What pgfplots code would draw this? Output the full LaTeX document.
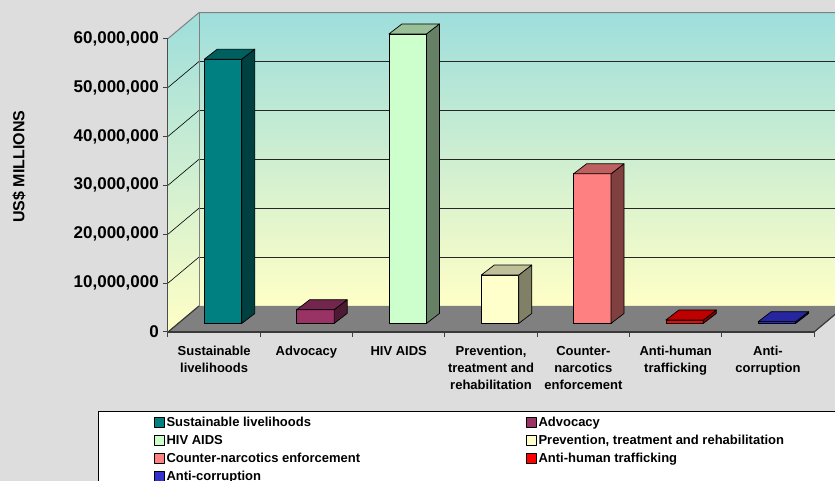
\documentclass[border=0pt]{standalone}
\usepackage{pgfplots}
\pgfplotsset{compat=1.18}
\usepackage{fontspec}
\setmainfont{Liberation Sans}
\definecolor{bgc}{RGB}{221,221,221}
\definecolor{wallTop}{RGB}{158,222,220}
\definecolor{wallBot}{RGB}{255,255,198}
\definecolor{floorc}{RGB}{128,128,128}
\definecolor{c1f}{RGB}{0,128,128}\definecolor{c1t}{RGB}{0,96,96}\definecolor{c1s}{RGB}{0,64,64}
\definecolor{c2f}{RGB}{153,51,102}\definecolor{c2t}{RGB}{115,38,77}\definecolor{c2s}{RGB}{77,26,51}
\definecolor{c3f}{RGB}{204,255,204}\definecolor{c3t}{RGB}{153,191,153}\definecolor{c3s}{RGB}{102,128,102}
\definecolor{c4f}{RGB}{255,255,204}\definecolor{c4t}{RGB}{191,191,153}\definecolor{c4s}{RGB}{128,128,102}
\definecolor{c5f}{RGB}{255,128,128}\definecolor{c5t}{RGB}{191,96,96}\definecolor{c5s}{RGB}{128,64,64}
\definecolor{c6f}{RGB}{255,0,0}\definecolor{c6t}{RGB}{191,0,0}\definecolor{c6s}{RGB}{128,0,0}
\definecolor{c7f}{RGB}{51,51,204}\definecolor{c7t}{RGB}{38,38,160}\definecolor{c7s}{RGB}{26,26,102}
% one 3-D column: #1 category index, #2 value (millions), #3 front, #4 top, #5 side
\newcommand\cube[5]{%
 \pgfmathsetmacro\cL{#1+0.394}%
 \pgfmathsetmacro\cR{#1+0.800}%
 \pgfmathsetmacro\cRd{#1+0.941}%
 \pgfmathsetmacro\cLd{#1+0.535}%
 \pgfmathsetmacro\cT{1.75+#2}%
 \pgfmathsetmacro\cTd{3.80+#2}%
 \edef\cubetmp{%
  \noexpand\addplot[fill=#3,draw=black,line width=0.7pt,line join=round] coordinates {(\cL,1.75) (\cR,1.75) (\cR,\cT) (\cL,\cT)} --cycle;
  \noexpand\addplot[forget plot,fill=#5,draw=black,line width=0.7pt,line join=round] coordinates {(\cR,1.75) (\cRd,3.80) (\cRd,\cTd) (\cR,\cT)} --cycle;
  \noexpand\addplot[forget plot,fill=#4,draw=black,line width=0.7pt,line join=round] coordinates {(\cL,\cT) (\cR,\cT) (\cRd,\cTd) (\cLd,\cTd)} --cycle;
 }\cubetmp}
\begin{document}
\begin{tikzpicture}
\useasboundingbox (0,0) rectangle (835pt,481pt);
\clip (0,0) rectangle (835pt,481pt);
\fill[bgc] (0,0) rectangle (835pt,481pt);
\begin{axis}[
  at={(168pt,149pt)}, anchor=south west,
  x=92.3pt, y=4.89pt,
  xmin=0, xmax=7, ymin=0, ymax=60,
  enlargelimits=false, clip=false, axis on top,
  axis x line*=bottom, axis y line*=left,
  x axis line style={line width=2pt, draw=black!78},
  y axis line style={line width=1pt, draw=black!70},
  tick align=outside, major tick length=5pt,
  tick style={line width=1pt, draw=black!75},
  xtick={0,1,...,7},
  xticklabels={{Sustainable\\livelihoods},Advocacy,HIV AIDS,{Prevention,\\treatment and\\rehabilitation},{Counter-\\narcotics\\enforcement},{Anti-human\\trafficking},{Anti-\\corruption},{}},
  xticklabel style={anchor=north, align=center, inner sep=0pt, xshift=46.15pt, yshift=-9pt, font=\fontsize{13}{17}\selectfont\bfseries},
  ytick={0,10,...,60},
  yticklabels={0,{10,000,000},{20,000,000},{30,000,000},{40,000,000},{50,000,000},{60,000,000}},
  yticklabel style={anchor=east, inner sep=0pt, xshift=-4pt, font=\fontsize{17}{19}\selectfont\bfseries},
  /pgf/number format/assume math mode=true,
  ylabel={US\$ MILLIONS},
  ylabel style={at={(axis description cs:-0.2306,0.5634)}, anchor=center, font=\fontsize{16}{18}\selectfont\bfseries},
  legend columns=2, legend cell align=left,
  legend image code/.code={\draw[#1,draw=black,line width=0.6pt] (0pt,-5pt) rectangle (10pt,5pt); \path[draw=none,fill=none] (12.7pt,0pt) circle (0pt);},
  legend style={at={(axis description cs:-0.1083,-0.2693)}, anchor=north west, draw=black, line width=1pt, fill=white,
     inner xsep=55pt, inner ysep=1.8pt, column sep=0pt, row sep=0pt,
     nodes={inner sep=0pt, text height=13.65pt, text depth=4.35pt},
     font=\fontsize{13}{15}\selectfont\bfseries},
]
% back wall and left wall
\addplot[forget plot, draw=none, top color=wallTop, bottom color=wallBot] coordinates {(0.336,5.32) (7.4,5.32) (7.4,65.32) (0.336,65.32)} --cycle;
\addplot[forget plot, draw=none, top color=wallTop, bottom color=wallBot] coordinates {(0,0) (0.336,5.32) (0.336,65.32) (0,60)} --cycle;
% grid lines
\pgfplotsinvokeforeach{10,20,30,40,50}{
  \draw[black!85, line width=0.9pt] (axis cs:0.336,#1+5.32) -- (axis cs:7.4,#1+5.32);
  \draw[black, line width=0.6pt] (axis cs:0,#1) -- (axis cs:0.336,#1+5.32);
}
\draw[black!50, line width=1pt] (axis cs:0,60) -- (axis cs:0.336,65.32) -- (axis cs:7.4,65.32);
\draw[black!50, line width=1pt] (axis cs:0.336,5.32) -- (axis cs:0.336,65.32);
% floor
\addplot[forget plot, fill=floorc, draw=none] coordinates {(0,0) (7,0) (7.336,5.32) (0.336,5.32)} --cycle;
\draw[black!78, line width=1.2pt] (axis cs:0,0) -- (axis cs:0.336,5.32);
\draw[black!78, line width=1.2pt] (axis cs:7,0) -- (axis cs:7.336,5.32);
% columns
\cube{0}{54.05}{c1f}{c1t}{c1s}
\cube{1}{2.8}{c2f}{c2t}{c2s}
\cube{2}{59.2}{c3f}{c3t}{c3s}
\cube{3}{9.9}{c4f}{c4t}{c4s}
\cube{4}{30.6}{c5f}{c5t}{c5s}
\cube{5}{0.7}{c6f}{c6t}{c6s}
\cube{6}{0.35}{c7f}{c7t}{c7s}
\legend{\makebox[359pt][l]{Sustainable livelihoods},\makebox[330pt][l]{Advocacy},\makebox[359pt][l]{HIV AIDS},\makebox[330pt][l]{Prevention, treatment and rehabilitation},\makebox[359pt][l]{Counter-narcotics enforcement},\makebox[330pt][l]{Anti-human trafficking},\makebox[359pt][l]{Anti-corruption}}
\end{axis}
\end{tikzpicture}
\end{document}
